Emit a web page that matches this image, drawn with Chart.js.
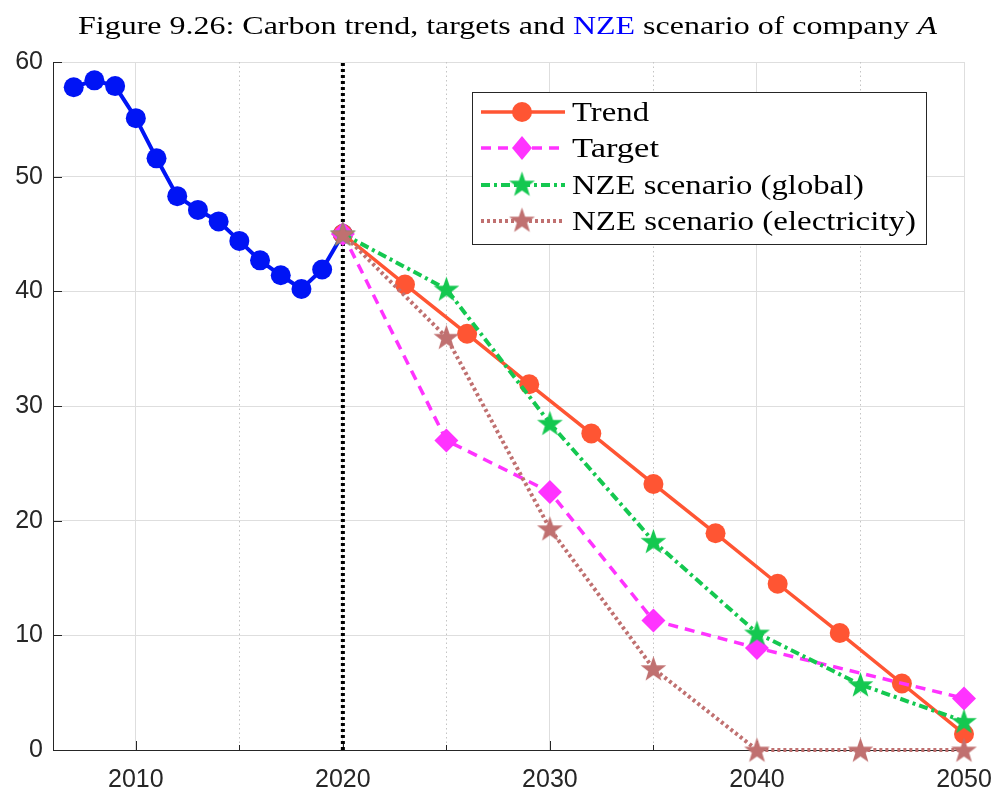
<!DOCTYPE html>
<html>
<head>
<meta charset="utf-8">
<script src="https://cdn.jsdelivr.net/npm/chart.js@4.4.0/dist/chart.umd.min.js"></script>
<style>
  html, body { margin: 0; padding: 0; background: #ffffff; }
  #wrap { width: 993px; height: 792px; position: relative; }
</style>
</head>
<body>
<div id="wrap"><canvas id="carbonChart" width="993" height="792"></canvas></div>
<script>
// Données
const HIST_YEARS = [2007, 2008, 2009, 2010, 2011, 2012, 2013, 2014, 2015, 2016, 2017, 2018, 2019, 2020];
const HIST_VALUES = [57.8, 58.4, 57.9, 55.1, 51.6, 48.3, 47.1, 46.1, 44.4, 42.7, 41.4, 40.2, 41.9, 45.0];

const TREND_YEARS = [2020, 2023, 2026, 2029, 2032, 2035, 2038, 2041, 2044, 2047, 2050];
const TREND_VALUES = [45.0, 40.6, 36.3, 31.9, 27.6, 23.2, 18.9, 14.5, 10.2, 5.8, 1.4];

const TARGET_YEARS = [2020, 2025, 2030, 2035, 2040, 2050];
const TARGET_VALUES = [45.0, 27.0, 22.5, 11.3, 8.9, 4.5];

const NZE_YEARS = [2020, 2025, 2030, 2035, 2040, 2045, 2050];
const NZE_GLOBAL = [45.0, 40.2, 28.5, 18.2, 10.2, 5.7, 2.5];
const NZE_ELEC = [45.0, 36.0, 19.3, 7.1, 0, 0, 0];

const CUTOFF_YEAR = 2020;
const X_TICKS = [2010, 2020, 2030, 2040, 2050];
const X_MINOR = [2015, 2025, 2035, 2045];
const Y_TICKS = [0, 10, 20, 30, 40, 50, 60];

const LEGEND_LABELS = ['Trend', 'Target', 'NZE scenario (global)', 'NZE scenario (electricity)'];

const COLORS = {
    hist: '#0014f5',
    trend: '#ff5533',
    target: '#ff33ff',
    global: '#14c850',
    elec: '#c07070',
    text: '#262626',
    grid: '#dedede'
};

function toPoints(xs, ys) {
    return xs.map((x, i) => ({ x: x, y: ys[i] }));
}

// Etoile pleine à 5 branches (pentagram MATLAB)
function makeStar(color, r) {
    const c = document.createElement('canvas');
    const s = Math.ceil(2 * r + 2);
    c.width = s;
    c.height = s;
    const g = c.getContext('2d');
    const cx = s / 2, cy = s / 2 + 1;
    g.beginPath();
    for (let i = 0; i < 10; i++) {
        const rad = (i % 2 === 0) ? r : r * 0.4;
        const a = -Math.PI / 2 + i * Math.PI / 5;
        const px = cx + rad * Math.cos(a), py = cy + rad * Math.sin(a);
        if (i === 0) g.moveTo(px, py); else g.lineTo(px, py);
    }
    g.closePath();
    g.fillStyle = color;
    g.fill();
    return c;
}

const starGlobal = makeStar(COLORS.global, 13.5);
const starElec = makeStar(COLORS.elec, 13.5);

// Texte serif ajusté à une largeur donnée
function drawFitted(ctx, parts, x, y, width, size, align) {
    ctx.save();
    let total = 0;
    parts.forEach(p => {
        ctx.font = (p.italic ? 'italic ' : '') + size + 'px "Liberation Serif", serif';
        p.w = ctx.measureText(p.text).width;
        total += p.w;
    });
    const k = width / total;
    const x0 = align === 'center' ? x - width / 2 : x;
    ctx.translate(x0, y);
    ctx.scale(k, 1);
    ctx.textBaseline = 'alphabetic';
    ctx.textAlign = 'left';
    let cx = 0;
    parts.forEach(p => {
        ctx.font = (p.italic ? 'italic ' : '') + size + 'px "Liberation Serif", serif';
        ctx.fillStyle = p.color || '#000';
        ctx.fillText(p.text, cx, 0);
        cx += p.w;
    });
    ctx.restore();
}

const decorPlugin = {
    id: 'decor',
    beforeDatasetsDraw(chart) {
        const ctx = chart.ctx;
        const xs = chart.scales.x, ys = chart.scales.y;
        const area = chart.chartArea;
        ctx.save();
        // grille mineure pointillée
        ctx.strokeStyle = '#c4c4c4';
        ctx.lineWidth = 1;
        ctx.setLineDash([1.5, 3]);
        X_MINOR.forEach(v => {
            const px = Math.round(xs.getPixelForValue(v)) + 0.5;
            ctx.beginPath();
            ctx.moveTo(px, area.top);
            ctx.lineTo(px, area.bottom);
            ctx.stroke();
        });
        ctx.setLineDash([]);
        // graduations vers l'intérieur
        ctx.strokeStyle = COLORS.text;
        Y_TICKS.forEach(v => {
            const py = Math.round(ys.getPixelForValue(v)) + 0.5;
            ctx.beginPath();
            ctx.moveTo(area.left, py);
            ctx.lineTo(area.left + 9, py);
            ctx.stroke();
        });
        X_TICKS.concat(X_MINOR).forEach(v => {
            const px = Math.round(xs.getPixelForValue(v)) + 0.5;
            const len = X_MINOR.includes(v) ? 5 : 9;
            ctx.beginPath();
            ctx.moveTo(px, area.bottom);
            ctx.lineTo(px, area.bottom - len);
            ctx.stroke();
        });
        ctx.restore();
    },
    afterDraw(chart) {
        const ctx = chart.ctx;
        // titre
        drawFitted(ctx, [
            { text: 'Figure 9.26: Carbon trend, targets and ' },
            { text: 'NZE', color: '#0000ff' },
            { text: ' scenario of company ' },
            { text: 'A', italic: true }
        ], 507.5, 34, 859, 26, 'center');

        // légende
        const box = { x: 472, y: 92, w: 454, h: 152 };
        ctx.save();
        ctx.fillStyle = '#ffffff';
        ctx.fillRect(box.x, box.y, box.w, box.h);
        ctx.strokeStyle = '#262626';
        ctx.lineWidth = 1;
        ctx.strokeRect(box.x + 0.5, box.y + 0.5, box.w, box.h);

        const rows = [112, 148, 185, 221];
        const styles = [
            { color: COLORS.trend, dash: [], width: 3.5 },
            { color: COLORS.target, dash: [10, 7], width: 3.5 },
            { color: COLORS.global, dash: [9, 4, 3, 4], width: 4 },
            { color: COLORS.elec, dash: [3, 3], width: 4 }
        ];
        rows.forEach((ry, i) => {
            const st = styles[i];
            ctx.strokeStyle = st.color;
            ctx.lineWidth = st.width;
            ctx.setLineDash(st.dash);
            ctx.beginPath();
            ctx.moveTo(481, ry);
            ctx.lineTo(565, ry);
            ctx.stroke();
            ctx.setLineDash([]);
            ctx.fillStyle = st.color;
            if (i === 0) {
                ctx.beginPath();
                ctx.arc(522, ry, 10, 0, Math.PI * 2);
                ctx.fill();
            } else if (i === 1) {
                ctx.beginPath();
                ctx.moveTo(522, ry - 12);
                ctx.lineTo(532, ry);
                ctx.lineTo(522, ry + 12);
                ctx.lineTo(512, ry);
                ctx.closePath();
                ctx.fill();
            } else {
                const img = i === 2 ? starGlobal : starElec;
                ctx.drawImage(img, 522 - img.width / 2, ry - img.height / 2 - 1);
            }
        });
        ctx.restore();
        const widths = [77, 87, 292, 344];
        LEGEND_LABELS.forEach((t, i) => {
            drawFitted(ctx, [{ text: t }], 572, rows[i] + 9, widths[i], 27, 'left');
        });
    }
};

function initCarbonChart() {
    const ctx = document.getElementById('carbonChart').getContext('2d');
    const tickFont = { family: '"Liberation Sans", Arial, sans-serif', size: 25 };
    return new Chart(ctx, {
        type: 'line',
        data: {
            datasets: [
                {
                    label: 'Historique',
                    data: toPoints(HIST_YEARS, HIST_VALUES),
                    borderColor: COLORS.hist,
                    backgroundColor: COLORS.hist,
                    borderWidth: 4,
                    pointRadius: 10,
                    pointStyle: 'circle',
                    pointBorderWidth: 0,
                    order: 6
                },
                {
                    label: 'Coupure',
                    data: [{ x: CUTOFF_YEAR, y: 0 }, { x: CUTOFF_YEAR, y: 60 }],
                    borderColor: '#000000',
                    borderWidth: 4,
                    borderDash: [3, 3],
                    pointRadius: 0,
                    order: 7
                },
                {
                    label: LEGEND_LABELS[0],
                    data: toPoints(TREND_YEARS, TREND_VALUES),
                    borderColor: COLORS.trend,
                    backgroundColor: COLORS.trend,
                    borderWidth: 3.5,
                    pointRadius: 10,
                    pointBorderWidth: 0,
                    order: 4
                },
                {
                    label: LEGEND_LABELS[1],
                    data: toPoints(TARGET_YEARS, TARGET_VALUES),
                    borderColor: COLORS.target,
                    backgroundColor: COLORS.target,
                    borderWidth: 3.5,
                    borderDash: [10, 7],
                    pointStyle: 'rectRot',
                    pointRadius: 12,
                    pointBorderWidth: 0,
                    order: 3
                },
                {
                    label: LEGEND_LABELS[2],
                    data: toPoints(NZE_YEARS, NZE_GLOBAL),
                    borderColor: COLORS.global,
                    backgroundColor: COLORS.global,
                    borderWidth: 4,
                    borderDash: [9, 4, 3, 4],
                    pointStyle: starGlobal,
                    order: 2
                },
                {
                    label: LEGEND_LABELS[3],
                    data: toPoints(NZE_YEARS, NZE_ELEC),
                    borderColor: COLORS.elec,
                    backgroundColor: COLORS.elec,
                    borderWidth: 4,
                    borderDash: [3, 3],
                    pointStyle: starElec,
                    order: 1
                }
            ]
        },
        options: {
            responsive: false,
            animation: false,
            devicePixelRatio: 1,
            clip: false,
            layout: { padding: { top: 62, right: 29, left: 0, bottom: 0 } },
            plugins: {
                legend: { display: false },
                title: { display: false },
                tooltip: { enabled: false }
            },
            elements: { line: { tension: 0 } },
            scales: {
                x: {
                    type: 'linear',
                    min: 2006,
                    max: 2050,
                    afterBuildTicks: scale => { scale.ticks = X_TICKS.map(v => ({ value: v })); },
                    afterFit: scale => {
                        scale.height = 42;
                        scale.paddingLeft = 0;
                        scale.paddingRight = 0;
                    },
                    grid: { color: COLORS.grid, drawTicks: false, lineWidth: 1 },
                    border: { display: true, color: COLORS.text, width: 1 },
                    ticks: {
                        color: COLORS.text,
                        font: tickFont,
                        padding: 15,
                        maxRotation: 0,
                        callback: v => String(v)
                    }
                },
                y: {
                    min: 0,
                    max: 60,
                    afterBuildTicks: scale => { scale.ticks = Y_TICKS.map(v => ({ value: v })); },
                    afterFit: scale => {
                        scale.width = 53;
                        scale.paddingTop = 0;
                        scale.paddingBottom = 0;
                    },
                    grid: { color: COLORS.grid, drawTicks: false, lineWidth: 1 },
                    border: { display: true, color: COLORS.text, width: 1 },
                    ticks: {
                        color: COLORS.text,
                        font: tickFont,
                        padding: 10
                    }
                }
            }
        },
        plugins: [decorPlugin]
    });
}

document.addEventListener('DOMContentLoaded', initCarbonChart);
</script>
</body>
</html>
